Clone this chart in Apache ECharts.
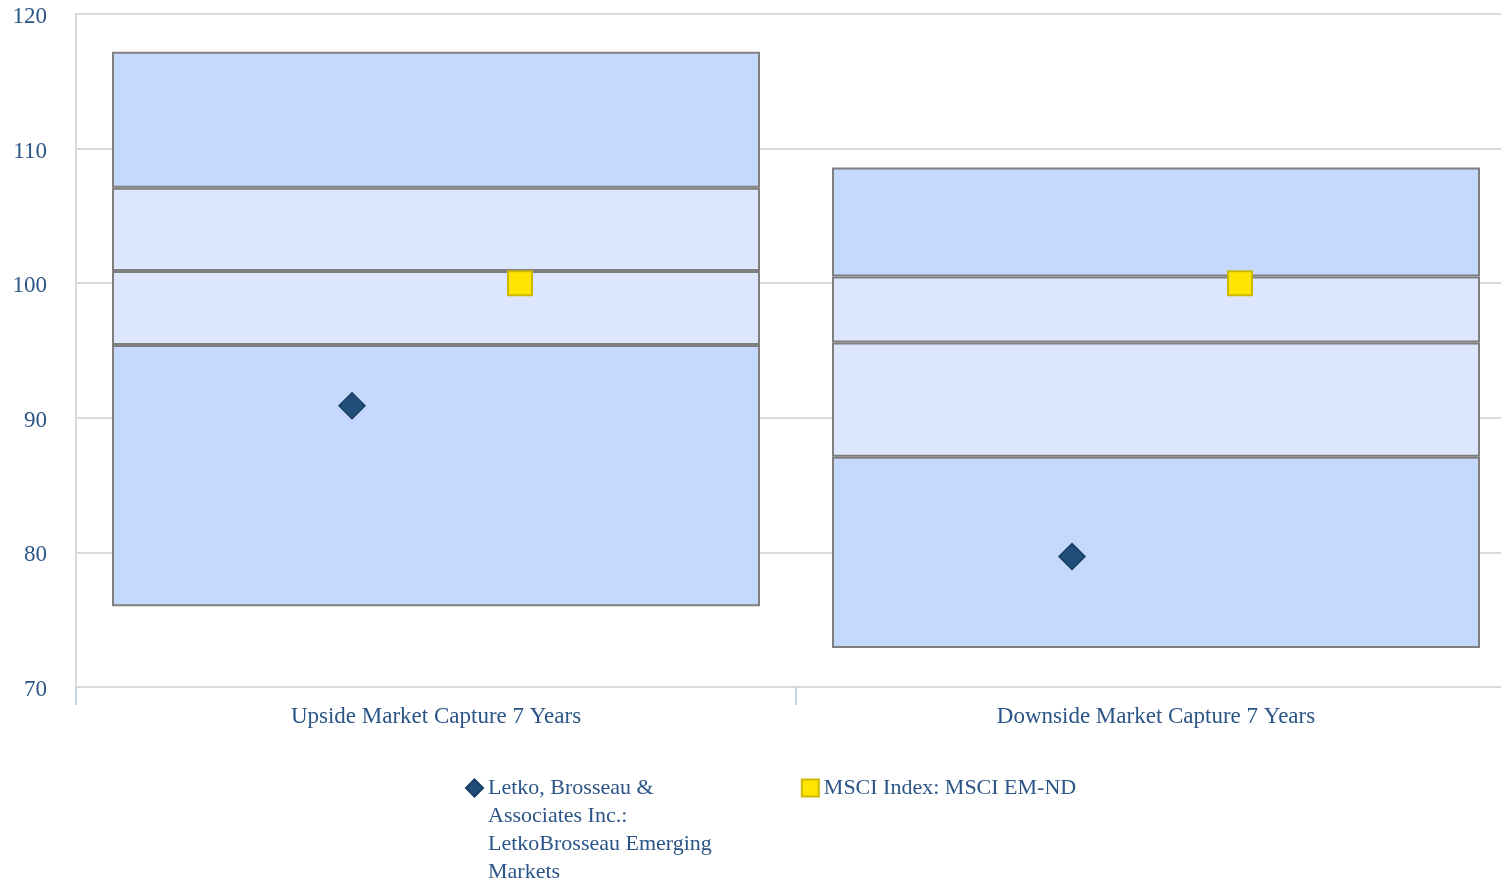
<!DOCTYPE html>
<html>
<head>
<meta charset="utf-8">
<script src="https://cdn.jsdelivr.net/npm/echarts@6/dist/echarts.min.js"></script>
<style>
html,body{margin:0;padding:0;background:#fff;}
#chart{width:1501px;height:882px;}
</style>
</head>
<body>
<div id="chart"></div>
<script>
const categories = ['Upside Market Capture 7 Years', 'Downside Market Capture 7 Years'];
const pct5 = [76.0, 72.9];
const pct25 = [95.4, 87.1];
const median = [100.9, 95.6];
const pct75 = [107.1, 100.5];
const pct95 = [117.2, 108.6];
const managerName = 'Letko, Brosseau & Associates Inc.: LetkoBrosseau Emerging Markets';
const managerLines = ['Letko, Brosseau &', 'Associates Inc.:', 'LetkoBrosseau Emerging', 'Markets'];
const managerValues = [90.9, 79.7];
const indexName = 'MSCI Index: MSCI EM-ND';
const indexValues = [100, 100];
const yTicks = [70, 80, 90, 100, 110, 120];

const diff = (a, b) => a.map((v, i) => +(v - b[i]).toFixed(2));
const textColor = '#2b5587';
const font = '"Liberation Serif", "Times New Roman", serif';
const outer = '#c5d8fd';
const inner = '#dce6fd';
const border = { borderColor: '#7f7f7f', borderWidth: 2 };

function seg(name, data, color) {
  return {
    type: 'bar', name: name, stack: 'box', data: data, barWidth: '90%',
    itemStyle: Object.assign({ color: color }, border),
    emphasis: { disabled: true }, silent: true, z: 2
  };
}

const chart = echarts.init(document.getElementById('chart'));
chart.setOption({
  animation: false,
  textStyle: { fontFamily: font },
  grid: { left: 76, top: 14, right: -15, bottom: 195, containLabel: false, outerBoundsMode: 'none' },
  xAxis: {
    type: 'category', data: categories,
    axisLine: { show: true, lineStyle: { color: '#d9d9d9', width: 2 } },
    axisTick: { show: true, length: 18, lineStyle: { color: '#c8d4e6', width: 2 } },
    axisLabel: { color: textColor, fontSize: 23, fontFamily: font, margin: 18 },
    splitLine: { show: false }
  },
  yAxis: {
    type: 'value', min: yTicks[0], max: yTicks[yTicks.length - 1], interval: 10,
    axisLine: { show: true, lineStyle: { color: '#d9d9d9', width: 2 } },
    axisTick: { show: false },
    axisLabel: {
      color: textColor, fontSize: 23, fontFamily: font, margin: 29,
      formatter: '{a|{value}}',
      rich: { a: { color: textColor, fontSize: 23, fontFamily: font, padding: [6, 0, 0, 0] } }
    },
    splitLine: { show: true, lineStyle: { color: '#d9d9d9', width: 2 } }
  },
  legend: {
    top: 685, left: 460, orient: 'horizontal', itemGap: 89,
    itemWidth: 17, itemHeight: 17, selectedMode: false,
    textStyle: { color: textColor, fontSize: 22, fontFamily: font, lineHeight: 28 },
    formatter: function (name) {
      return name === managerName ? '\n\n\n' + managerLines.join('\n') : name;
    },
    data: [managerName, indexName]
  },
  series: [
    { type: 'bar', stack: 'box', data: pct5, barWidth: '90%', itemStyle: { color: 'transparent' }, silent: true, z: 1 },
    seg('q1', diff(pct25, pct5), outer),
    seg('q2', diff(median, pct25), inner),
    seg('q3', diff(pct75, median), inner),
    seg('q4', diff(pct95, pct75), outer),
    {
      type: 'scatter', name: managerName, data: managerValues,
      symbol: 'diamond', symbolSize: 26, symbolOffset: [-84, 0],
      itemStyle: { color: '#1f4e79', borderColor: '#173d62', borderWidth: 1.5, opacity: 1 }, z: 5
    },
    {
      type: 'scatter', name: indexName, data: indexValues,
      symbol: 'rect', symbolSize: 24, symbolOffset: [84, 0],
      itemStyle: { color: '#ffe600', borderColor: '#cdb900', borderWidth: 2, opacity: 1 }, z: 5
    }
  ]
});
</script>
</body>
</html>
